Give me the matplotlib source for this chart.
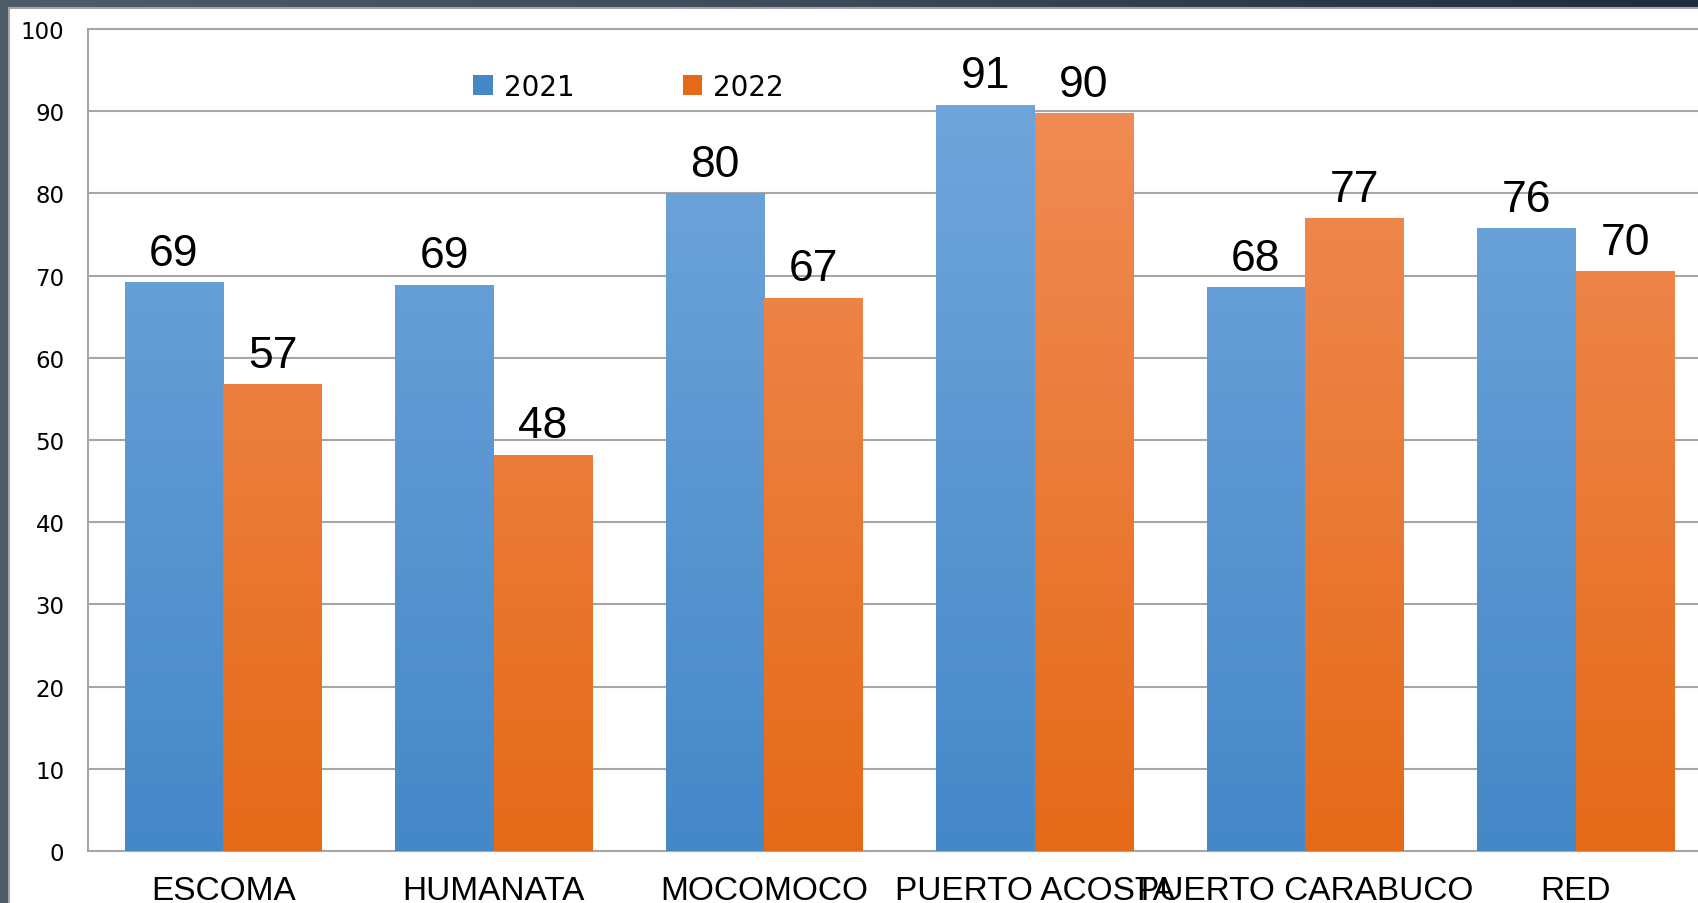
import matplotlib
matplotlib.use("Agg")
import matplotlib.pyplot as plt
import numpy as np
from matplotlib.patches import Rectangle, Patch
from matplotlib.colors import LinearSegmentedColormap

categories = ["ESCOMA", "HUMANATA", "MOCOMOCO", "PUERTO ACOSTA", "PUERTO CARABUCO", "RED"]
values_2021 = [69.2, 68.9, 80.0, 90.8, 68.6, 75.8]
values_2022 = [56.8, 48.2, 67.3, 89.8, 77.0, 70.5]
labels_2021 = ["69", "69", "80", "91", "68", "76"]
labels_2022 = ["57", "48", "67", "90", "77", "70"]
series_names = ["2021", "2022"]

blue_top, blue_bot = "#74a8dd", "#4588c8"
orange_top, orange_bot = "#f18f5c", "#e56a18"

W, H, DPI = 1699, 904, 100
fig = plt.figure(figsize=(W / DPI, H / DPI), dpi=DPI)

# dark slide background + white panel
bg = fig.add_axes([0, 0, 1, 1], zorder=-10)
grad = np.linspace(0, 1, 256).reshape(1, -1)
bg_cmap = LinearSegmentedColormap.from_list("bg", ["#4d5c68", "#3a4a58", "#1e2c3c"])
bg.imshow(grad, aspect="auto", cmap=bg_cmap, extent=[0, 1, 0, 1])
bg.add_patch(Rectangle((9 / W, -0.1), 1.2, (H - 9) / H + 0.1, facecolor="white",
                       edgecolor="#a6a6a6", lw=1.5))
bg.set_xlim(0, 1)
bg.set_ylim(0, 1)
bg.axis("off")

ax = fig.add_axes([88 / W, 52 / H, 1623 / W, 822 / H])
ax.set_facecolor("none")

x = np.arange(len(categories))
bw = 0.365
bars1 = ax.bar(x - bw / 2, values_2021, bw, color=blue_top, zorder=3)
bars2 = ax.bar(x + bw / 2, values_2022, bw, color=orange_top, zorder=3)

def gradient_fill(bars, top, bot):
    cmap = LinearSegmentedColormap.from_list("g", [bot, top])
    g = np.linspace(0, 1, 256).reshape(-1, 1)
    for b in bars:
        x0 = b.get_x()
        im = ax.imshow(g, aspect="auto", cmap=cmap, origin="lower",
                       extent=[x0, x0 + b.get_width(), 0, 100], zorder=4)
        im.set_clip_path(b)

gradient_fill(bars1, blue_top, blue_bot)
gradient_fill(bars2, orange_top, orange_bot)

for bars, labs in [(bars1, labels_2021), (bars2, labels_2022)]:
    for b, t in zip(bars, labs):
        ax.annotate(t, (b.get_x() + b.get_width() / 2, b.get_height()),
                    xytext=(0, 6), textcoords="offset points", ha="center", va="bottom",
                    fontsize=32, family="Liberation Sans", zorder=5)

ax.set_xlim(-0.5, len(categories) - 0.5)
ax.set_ylim(0, 100)
ax.set_yticks(range(0, 101, 10))
ax.set_xticks(x)
ax.set_xticklabels(categories, fontsize=24, family="Liberation Sans")
ax.tick_params(axis="x", length=0, pad=17)
ax.tick_params(axis="y", length=0, pad=17, labelsize=16.5)
ax.yaxis.grid(True, color="#a6a6a6", lw=1.5, zorder=1)
ax.set_axisbelow(True)
for s in ax.spines.values():
    s.set_color("#a6a6a6")
    s.set_linewidth(1.5)

handles = [Patch(facecolor=blue_bot), Patch(facecolor=orange_bot)]
ax.legend(handles, series_names, ncol=2, frameon=False, fontsize=20,
          loc="center left", bbox_to_anchor=(0.222, 0.93),
          handlelength=0.7, handleheight=0.7, handletextpad=0.4, columnspacing=3.9)

fig.savefig("out.png", dpi=DPI)
